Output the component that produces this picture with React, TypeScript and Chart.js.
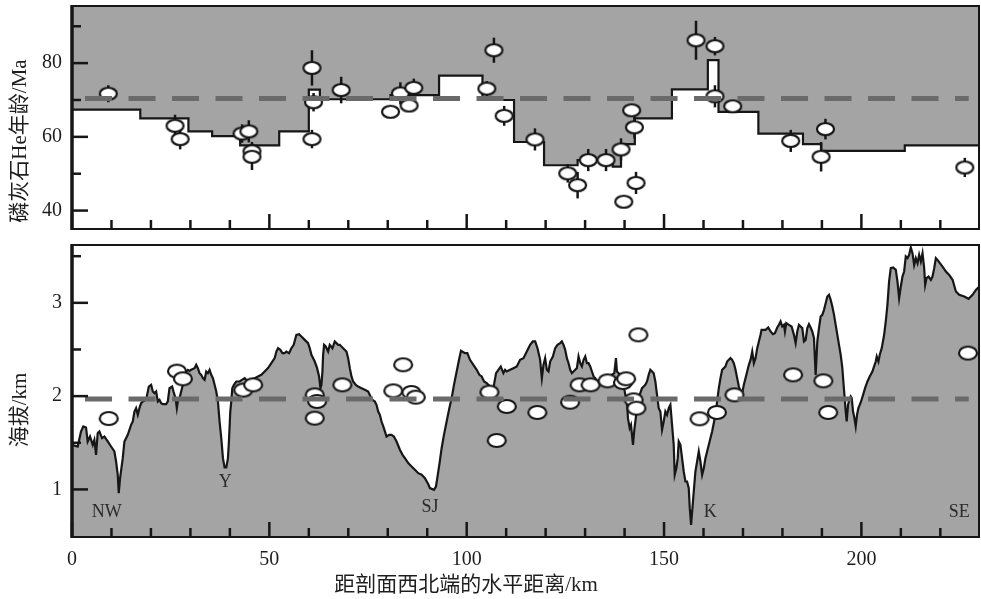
import React, { useEffect, useRef } from 'react';
import { Chart, registerables } from 'chart.js';
Chart.register(...registerables);

// ---------- axes ----------
const XMAX = 229.8;
const kmTicks = [0, 50, 100, 150, 200];
const kmMinor = [10, 20, 30, 40, 60, 70, 80, 90, 110, 120, 130, 140, 160, 170, 180, 190, 210, 220];
const ageTicks = [40, 60, 80];
const ageMinor = [50, 70, 90];
const elevTicks = [1, 2, 3];
const elevMinor = [1.5, 2.5, 3.5];

// ---------- top panel: AHe age ----------
const stepKm = [0, 17.3, 29.5, 35.5, 42.6, 52.5, 60.0, 62.8, 80.7, 93.0, 104.0, 112.0, 119.6, 128.1, 137.0, 139.1, 142.6, 152.0, 161.1, 163.8, 173.9, 185.2, 189.8, 211.0, XMAX];
const stepAge = [67.4, 65.0, 61.5, 60.2, 57.7, 61.5, 72.8, 70.2, 71.3, 76.6, 70.0, 58.6, 52.3, 53.7, 51.9, 58.0, 65.0, 72.9, 80.8, 66.8, 60.9, 58.0, 56.2, 57.7, 57.7];

const ageKm = [9.2, 26.1, 27.4, 43.1, 44.8, 45.6, 45.6, 60.8, 61.2, 60.8, 68.2, 80.7, 83.2, 85.4, 86.6, 106.9, 105.1, 109.5, 117.3, 125.6, 128.1, 130.8, 135.3, 139.1, 141.8, 142.5, 142.9, 139.8, 158.1, 162.9, 162.9, 167.4, 182.1, 190.9, 189.8, 226.2];
const ageMa = [71.7, 63.0, 59.4, 60.9, 61.5, 56.1, 54.6, 78.7, 69.4, 59.4, 72.7, 66.8, 71.8, 68.5, 73.3, 83.5, 73.1, 65.7, 59.3, 50.1, 46.9, 53.7, 53.7, 56.6, 67.2, 62.6, 47.5, 42.4, 86.2, 84.6, 71.0, 68.3, 58.9, 62.1, 54.6, 51.7];
const ageErr = [2.3, 3.0, 2.8, 2.5, 3.0, 2.5, 3.6, 4.8, 2.5, 2.5, 3.6, 1.5, 3.0, 1.5, 2.5, 3.4, 2.0, 2.7, 3.0, 2.5, 3.6, 3.0, 3.0, 3.0, 1.5, 3.0, 3.0, 0, 5.3, 2.5, 3.0, 0, 3.0, 2.8, 4.0, 2.6];
const AGE_REF = 70.4;

// ---------- bottom panel: elevation ----------
const profKm = [0, 1.44, 2.28, 2.87, 3.55, 3.98, 4.57, 5.25, 5.67, 6.09, 6.51, 6.94, 7.61, 8.21, 9.05, 9.9, 10.74, 11.17, 11.59, 11.84, 12.18, 12.86, 13.28, 14.13, 14.97, 15.4, 15.82, 16.24, 16.67, 17.09, 17.51, 17.93, 18.78, 19.46, 20.05, 20.47, 20.9, 21.32, 21.74, 22.17, 22.59, 23.01, 23.86, 24.28, 24.7, 25.38, 25.72, 26.23, 26.56, 26.82, 27.24, 27.66, 28.09, 28.51, 28.93, 29.36, 29.78, 30.2, 31.05, 31.47, 31.89, 32.32, 32.74, 33.16, 33.59, 34.01, 34.43, 34.86, 35.28, 35.7, 36.13, 36.55, 36.97, 37.39, 37.82, 38.24, 38.66, 39.09, 39.51, 39.76, 40.1, 40.36, 40.61, 41.03, 41.63, 42.47, 43.74, 44.58, 45.43, 46.28, 47.12, 47.97, 48.81, 49.66, 50.51, 51.35, 51.78, 52.2, 52.79, 53.3, 53.89, 54.31, 54.99, 55.58, 56.17, 56.85, 57.53, 58.12, 58.97, 59.81, 60.23, 60.66, 61.5, 62.1, 62.6, 62.94, 63.2, 63.45, 63.62, 63.87, 64.29, 64.89, 65.31, 65.99, 66.58, 67.0, 67.43, 67.85, 68.69, 69.54, 69.96, 70.39, 70.81, 71.23, 71.91, 72.5, 73.35, 74.19, 75.04, 75.63, 76.14, 76.73, 77.15, 77.58, 78.0, 78.42, 79.02, 79.69, 80.37, 80.96, 81.55, 82.23, 83.08, 83.75, 84.35, 85.19, 86.04, 86.88, 87.73, 88.58, 89.42, 90.27, 90.69, 91.71, 92.21, 92.55, 93.06, 93.65, 94.24, 94.92, 95.6, 96.19, 96.78, 97.46, 98.14, 98.56, 99.57, 100.17, 100.84, 101.69, 102.54, 103.21, 103.8, 104.4, 105.07, 105.92, 106.77, 107.44, 108.04, 108.63, 109.3, 109.73, 110.15, 111.0, 111.84, 112.69, 113.53, 114.38, 115.23, 116.07, 116.75, 117.35, 117.94, 118.61, 119.04, 119.46, 119.88, 120.31, 120.73, 121.15, 121.83, 122.42, 123.01, 123.69, 124.11, 124.54, 124.96, 125.38, 125.81, 126.23, 126.65, 127.5, 127.92, 128.34, 128.77, 129.19, 129.61, 130.04, 130.46, 130.88, 131.3, 131.73, 132.15, 132.57, 133.0, 133.84, 134.69, 135.53, 136.38, 136.8, 137.4, 137.82, 138.07, 138.5, 138.92, 139.34, 139.76, 140.19, 140.61, 140.86, 141.29, 141.63, 142.13, 142.47, 142.73, 143.15, 143.83, 144.42, 144.84, 145.26, 145.69, 146.11, 146.53, 146.96, 147.38, 147.8, 148.22, 148.65, 149.07, 149.49, 149.92, 150.34, 150.76, 151.19, 151.61, 152.03, 152.45, 152.71, 153.13, 153.47, 153.72, 154.15, 154.57, 154.99, 155.42, 155.84, 156.26, 156.52, 156.85, 157.19, 157.53, 157.95, 158.38, 158.8, 159.22, 159.65, 160.07, 160.49, 161.34, 162.18, 163.03, 163.45, 163.88, 164.3, 164.72, 165.15, 165.57, 165.99, 166.41, 166.84, 167.26, 167.68, 168.11, 168.53, 168.95, 169.38, 169.8, 170.22, 170.65, 171.07, 171.49, 171.92, 172.34, 172.76, 173.18, 173.61, 174.03, 174.45, 174.71, 175.72, 176.4, 176.99, 177.58, 178.09, 178.68, 179.11, 179.53, 179.95, 180.38, 180.63, 180.97, 181.64, 182.32, 182.91, 183.34, 183.76, 184.18, 184.61, 185.03, 185.45, 185.87, 186.3, 186.72, 187.14, 187.57, 187.99, 188.41, 188.84, 189.26, 189.68, 190.1, 190.53, 190.95, 191.37, 191.8, 192.22, 192.64, 193.07, 193.49, 193.91, 194.33, 194.76, 195.18, 195.43, 195.77, 196.03, 196.28, 196.62, 196.87, 197.3, 197.55, 197.89, 198.23, 198.56, 198.9, 199.24, 199.58, 199.92, 200.43, 200.93, 201.53, 202.12, 202.79, 203.22, 203.64, 203.89, 204.32, 204.66, 205.16, 205.76, 206.18, 206.6, 207.02, 207.45, 208.04, 208.72, 209.14, 209.56, 209.99, 210.41, 210.83, 211.25, 211.68, 212.1, 212.52, 212.95, 213.37, 213.79, 214.22, 214.64, 215.06, 215.49, 215.91, 216.16, 216.5, 217.01, 217.6, 218.02, 218.45, 218.87, 219.29, 219.89, 220.56, 221.41, 222.25, 223.1, 223.95, 224.79, 226.06, 227.16, 228.17, 229.02, 230.0];
const profElev = [1.478, 1.46, 1.621, 1.675, 1.664, 1.514, 1.567, 1.478, 1.532, 1.371, 1.603, 1.621, 1.55, 1.567, 1.514, 1.46, 1.407, 1.299, 1.157, 0.96, 1.121, 1.335, 1.514, 1.585, 1.692, 1.728, 1.835, 1.871, 1.8, 1.871, 1.925, 1.943, 1.96, 2.103, 2.121, 2.05, 2.032, 2.05, 1.943, 1.96, 1.925, 1.914, 1.914, 1.943, 2.085, 2.103, 2.05, 1.978, 1.871, 1.943, 1.978, 2.05, 2.121, 2.211, 2.264, 2.282, 2.271, 2.282, 2.3, 2.336, 2.3, 2.246, 2.228, 2.193, 2.175, 2.264, 2.246, 2.282, 2.228, 2.193, 2.121, 2.05, 1.943, 1.728, 1.55, 1.335, 1.235, 1.235, 1.335, 1.514, 1.835, 1.943, 2.085, 2.121, 2.157, 2.157, 2.193, 2.157, 2.175, 2.193, 2.211, 2.228, 2.264, 2.3, 2.353, 2.407, 2.478, 2.514, 2.496, 2.461, 2.461, 2.478, 2.461, 2.514, 2.55, 2.657, 2.664, 2.639, 2.603, 2.568, 2.514, 2.443, 2.371, 2.3, 2.211, 2.085, 2.121, 2.264, 2.443, 2.55, 2.532, 2.478, 2.55, 2.514, 2.586, 2.568, 2.55, 2.55, 2.514, 2.478, 2.407, 2.3, 2.211, 2.157, 2.121, 2.103, 2.085, 2.068, 2.05, 1.996, 1.96, 1.943, 1.907, 1.835, 1.8, 1.728, 1.657, 1.567, 1.585, 1.585, 1.567, 1.514, 1.425, 1.371, 1.335, 1.282, 1.246, 1.21, 1.174, 1.157, 1.121, 1.056, 1.014, 0.996, 1.031, 1.121, 1.264, 1.442, 1.585, 1.728, 1.871, 1.978, 2.121, 2.264, 2.407, 2.486, 2.461, 2.461, 2.389, 2.336, 2.282, 2.228, 2.211, 2.157, 2.139, 2.103, 2.085, 2.246, 2.282, 2.318, 2.246, 2.282, 2.264, 2.282, 2.3, 2.318, 2.389, 2.407, 2.478, 2.55, 2.586, 2.586, 2.514, 2.389, 2.193, 2.336, 2.407, 2.282, 2.264, 2.371, 2.425, 2.514, 2.55, 2.568, 2.586, 2.55, 2.496, 2.407, 2.353, 2.282, 2.246, 2.282, 2.3, 2.425, 2.353, 2.318, 2.389, 2.425, 2.353, 2.353, 2.318, 2.264, 2.211, 2.193, 2.157, 2.175, 2.193, 2.175, 2.193, 2.228, 2.246, 2.407, 2.264, 2.246, 2.228, 2.211, 2.121, 2.014, 1.943, 1.764, 1.657, 1.692, 1.478, 1.639, 1.728, 1.871, 2.014, 2.085, 2.103, 2.121, 2.157, 2.228, 2.282, 2.264, 2.246, 2.157, 2.014, 1.871, 1.835, 1.639, 1.728, 1.835, 1.8, 1.871, 1.907, 1.692, 1.478, 1.157, 1.228, 1.335, 1.514, 1.478, 1.335, 1.192, 1.085, 1.085, 1.014, 0.799, 0.62, 0.799, 0.978, 1.192, 1.299, 1.407, 1.299, 1.157, 1.228, 1.335, 1.478, 1.621, 1.8, 1.943, 2.085, 2.193, 2.282, 2.3, 2.318, 2.371, 2.389, 2.407, 2.389, 2.353, 2.282, 2.193, 2.103, 2.05, 2.032, 2.121, 2.193, 2.264, 2.336, 2.389, 2.478, 2.353, 2.407, 2.514, 2.586, 2.657, 2.711, 2.711, 2.736, 2.693, 2.664, 2.675, 2.736, 2.764, 2.8, 2.746, 2.764, 2.693, 2.782, 2.764, 2.746, 2.657, 2.568, 2.693, 2.764, 2.746, 2.729, 2.586, 2.603, 2.729, 2.771, 2.736, 2.693, 2.621, 2.228, 2.586, 2.729, 2.854, 2.871, 2.925, 2.996, 3.068, 3.086, 3.032, 2.961, 2.871, 2.764, 2.657, 2.55, 2.443, 2.3, 2.157, 1.978, 1.835, 1.728, 1.907, 1.943, 1.996, 1.978, 1.835, 1.764, 1.675, 1.8, 1.871, 1.907, 1.943, 2.014, 2.085, 2.157, 2.211, 2.264, 2.318, 2.371, 2.425, 2.371, 2.443, 2.514, 2.657, 2.8, 2.979, 3.229, 3.372, 3.379, 3.354, 3.229, 3.05, 3.175, 3.282, 3.336, 3.497, 3.479, 3.515, 3.593, 3.532, 3.407, 3.479, 3.425, 3.515, 3.443, 3.532, 3.372, 3.193, 3.264, 3.282, 3.247, 3.282, 3.372, 3.479, 3.461, 3.425, 3.389, 3.336, 3.3, 3.247, 3.122, 3.086, 3.068, 3.043, 3.086, 3.139, 3.18];

const sampleKm = [9.3, 26.6, 28.1, 43.4, 45.9, 61.5, 62.1, 61.5, 68.5, 81.4, 83.9, 86.0, 87.1, 105.75, 110.15, 107.6, 117.9, 126.2, 128.6, 131.4, 135.7, 139.6, 140.4, 142.3, 143.0, 143.5, 159.0, 163.4, 167.85, 182.7, 190.36, 191.6, 227.0];
const sampleElev = [1.76, 2.268, 2.186, 2.065, 2.121, 2.014, 1.943, 1.764, 2.121, 2.057, 2.336, 2.039, 1.989, 2.043, 1.889, 1.525, 1.825, 1.935, 2.121, 2.121, 2.164, 2.146, 2.186, 1.96, 1.871, 2.657, 1.757, 1.825, 2.014, 2.228, 2.164, 1.825, 2.461];
const ELEV_REF = 1.97;

const placeNames = ['NW', 'Y', 'SJ', 'K', 'SE'];
const placeKm = [8.8, 38.8, 90.7, 161.7, 224.8];
const placeElev = [0.75, 1.08, 0.81, 0.75, 0.75];

const REF_START = 3.3;
const REF_END = 227.2;

// ---------- styling ----------
const GREY = '#a4a4a4';
const DASH = '#6a6a6a';
const INK = '#161616';
const SERIF = "'Liberation Serif', 'DejaVu Serif', serif";
const TITLE_FONT = "21px 'Liberation Serif', 'Noto Sans CJK SC', serif";

function makeEllipse(w: number, h: number) {
  const c = document.createElement('canvas');
  c.width = w + 2;
  c.height = h + 2;
  const g = c.getContext('2d')!;
  g.beginPath();
  g.ellipse(c.width / 2, c.height / 2, w / 2 - 1, h / 2 - 1, 0, 0, Math.PI * 2);
  g.fillStyle = '#ffffff';
  g.fill();
  g.lineWidth = 2.2;
  g.strokeStyle = INK;
  g.stroke();
  return c;
}

const framePlugin = {
  id: 'frame',
  afterDatasetsDraw(chart: any, _a: any, o: any) {
    const { ctx, chartArea, scales } = chart;
    const { left, right, top, bottom } = chartArea;
    const xs = scales.x, ys = scales.y;
    ctx.save();
    ctx.strokeStyle = INK;
    ctx.lineCap = 'butt';
    ctx.lineWidth = 2.5;
    const seg = (x1: number, y1: number, x2: number, y2: number) => {
      ctx.beginPath(); ctx.moveTo(x1, y1); ctx.lineTo(x2, y2); ctx.stroke();
    };
    o.xMajor.forEach((v: number) => { const p = xs.getPixelForValue(v); seg(p, bottom, p, bottom - 15); });
    o.xMinor.forEach((v: number) => { const p = xs.getPixelForValue(v); seg(p, bottom, p, bottom - 9); });
    o.yMajor.forEach((v: number) => { const p = ys.getPixelForValue(v); seg(left, p, left + 16, p); });
    o.yMinor.forEach((v: number) => { const p = ys.getPixelForValue(v); seg(left, p, left + 9, p); });
    ctx.lineWidth = 2;
    ctx.strokeRect(left, top, right - left, bottom - top);
    ctx.lineWidth = 3.5;
    seg(left, top - 1, left, bottom + 1);
    ctx.restore();
  },
};

const errorPlugin = {
  id: 'errbars',
  beforeDatasetDraw(chart: any, args: any, o: any) {
    if (!o || !o.err || args.index !== o.index) return;
    const { ctx, scales } = chart;
    ctx.save();
    ctx.strokeStyle = INK;
    ctx.lineWidth = 2.5;
    o.km.forEach((k: number, i: number) => {
      const e = o.err[i];
      if (!e) return;
      const x = scales.x.getPixelForValue(k);
      ctx.beginPath();
      ctx.moveTo(x, scales.y.getPixelForValue(o.val[i] - e));
      ctx.lineTo(x, scales.y.getPixelForValue(o.val[i] + e));
      ctx.stroke();
    });
    ctx.restore();
  },
};

const textPlugin = {
  id: 'texts',
  afterDraw(chart: any, _a: any, o: any) {
    const { ctx, scales } = chart;
    ctx.save();
    ctx.textAlign = 'center';
    ctx.textBaseline = 'middle';
    if (o.places) {
      ctx.font = `18px ${SERIF}`;
      ctx.fillStyle = '#2a2a2a';
      o.places.names.forEach((n: string, i: number) => {
        ctx.fillText(n, scales.x.getPixelForValue(o.places.km[i]), scales.y.getPixelForValue(o.places.elev[i]));
      });
    }
    ctx.fillStyle = '#1e1e1e';
    ctx.font = TITLE_FONT;
    if (o.yTitle) {
      ctx.save();
      ctx.translate(o.yTitle.x, o.yTitle.y);
      ctx.rotate(-Math.PI / 2);
      ctx.fillText(o.yTitle.text, 0, 0);
      ctx.restore();
    }
    if (o.xTitle) {
      ctx.fillText(o.xTitle.text, o.xTitle.x, o.xTitle.y);
    }
    ctx.restore();
  },
};

const tickFont = { family: SERIF, size: 20 };

const noPad = (s: any) => {
  s.paddingTop = 0; s.paddingBottom = 0; s.paddingLeft = 0; s.paddingRight = 0;
};

export default function App() {
  const topRef = useRef<HTMLCanvasElement>(null);
  const botRef = useRef<HTMLCanvasElement>(null);

  useEffect(() => {
    const ptTop = makeEllipse(19, 14);
    const ptBot = makeEllipse(20, 15);

    const yFit = (s: any) => { s.width = 72; noPad(s); };

    const top = new Chart(topRef.current!, {
      type: 'line',
      data: {
        datasets: [
          {
            label: 'ref',
            data: [{ x: REF_START, y: AGE_REF }, { x: REF_END, y: AGE_REF }],
            borderColor: DASH, borderWidth: 5, borderDash: [27, 16.5], borderCapStyle: 'butt',
            pointRadius: 0, fill: false, order: 0,
          },
          {
            label: 'ages',
            data: ageKm.map((x, i) => ({ x, y: ageMa[i] })),
            showLine: false, pointStyle: ptTop as any, pointRadius: 9, order: 1, clip: false,
          },
          {
            label: 'step',
            data: stepKm.map((x, i) => ({ x, y: stepAge[i] })),
            stepped: true, borderColor: INK, borderWidth: 2.2, backgroundColor: GREY,
            fill: 'end', pointRadius: 0, order: 2,
          },
        ],
      },
      options: {
        responsive: false, animation: false,
        layout: { autoPadding: false, padding: { left: 0, right: 2, top: 6, bottom: 7 } },
        scales: {
          x: { type: 'linear', min: 0, max: XMAX, display: false, afterFit: noPad },
          y: {
            type: 'linear', min: 35, max: 95.5,
            afterFit: yFit,
            afterBuildTicks: (s: any) => { s.ticks = ageTicks.map((v) => ({ value: v })); },
            grid: { display: false, drawTicks: false }, border: { display: false },
            ticks: { font: tickFont, color: '#1e1e1e', padding: 10 },
          },
        },
        plugins: {
          legend: { display: false }, tooltip: { enabled: false },
          frame: { xMajor: kmTicks, xMinor: kmMinor, yMajor: ageTicks, yMinor: ageMinor },
          errbars: { index: 1, km: ageKm, val: ageMa, err: ageErr },
          texts: { yTitle: { text: '磷灰石He年龄/Ma', x: 20, y: 141 } },
        } as any,
      },
      plugins: [framePlugin, errorPlugin, textPlugin],
    } as any);

    const bot = new Chart(botRef.current!, {
      type: 'line',
      data: {
        datasets: [
          {
            label: 'ref',
            data: [{ x: REF_START, y: ELEV_REF }, { x: REF_END, y: ELEV_REF }],
            borderColor: DASH, borderWidth: 5, borderDash: [27, 16.5], borderCapStyle: 'butt',
            pointRadius: 0, fill: false, order: 0,
          },
          {
            label: 'samples',
            data: sampleKm.map((x, i) => ({ x, y: sampleElev[i] })),
            showLine: false, pointStyle: ptBot as any, pointRadius: 9, order: 1, clip: false,
          },
          {
            label: 'profile',
            data: profKm.map((x, i) => ({ x, y: profElev[i] })),
            borderColor: INK, borderWidth: 2.2, backgroundColor: GREY,
            fill: 'start', pointRadius: 0, tension: 0, order: 2,
          },
        ],
      },
      options: {
        responsive: false, animation: false,
        layout: { autoPadding: false, padding: { left: 0, right: 2, top: 7, bottom: 0 } },
        scales: {
          x: {
            type: 'linear', min: 0, max: XMAX,
            afterFit: (s: any) => { s.height = 62; noPad(s); },
            afterBuildTicks: (s: any) => { s.ticks = kmTicks.map((v) => ({ value: v })); },
            grid: { display: false, drawTicks: false }, border: { display: false },
            ticks: { font: tickFont, color: '#1e1e1e', padding: 11, maxRotation: 0 },
          },
          y: {
            type: 'linear', min: 0.49, max: 3.62,
            afterFit: yFit,
            afterBuildTicks: (s: any) => { s.ticks = elevTicks.map((v) => ({ value: v })); },
            grid: { display: false, drawTicks: false }, border: { display: false },
            ticks: { font: tickFont, color: '#1e1e1e', padding: 10 },
          },
        },
        plugins: {
          legend: { display: false }, tooltip: { enabled: false },
          frame: { xMajor: kmTicks, xMinor: kmMinor, yMajor: elevTicks, yMinor: elevMinor },
          texts: {
            places: { names: placeNames, km: placeKm, elev: placeElev },
            yTitle: { text: '海拔/km', x: 20, y: 172 },
            xTitle: { text: '距剖面西北端的水平距离/km', x: 466, y: 347 },
          },
        } as any,
      },
      plugins: [framePlugin, errorPlugin, textPlugin],
    } as any);

    return () => { top.destroy(); bot.destroy(); };
  }, []);

  return (
    <div style={{ position: 'absolute', left: 0, top: 0, width: 981, height: 599, background: '#ffffff' }}>
      <canvas ref={topRef} width={981} height={236} style={{ position: 'absolute', left: 0, top: 0 }} />
      <canvas ref={botRef} width={981} height={361} style={{ position: 'absolute', left: 0, top: 238 }} />
    </div>
  );
}
